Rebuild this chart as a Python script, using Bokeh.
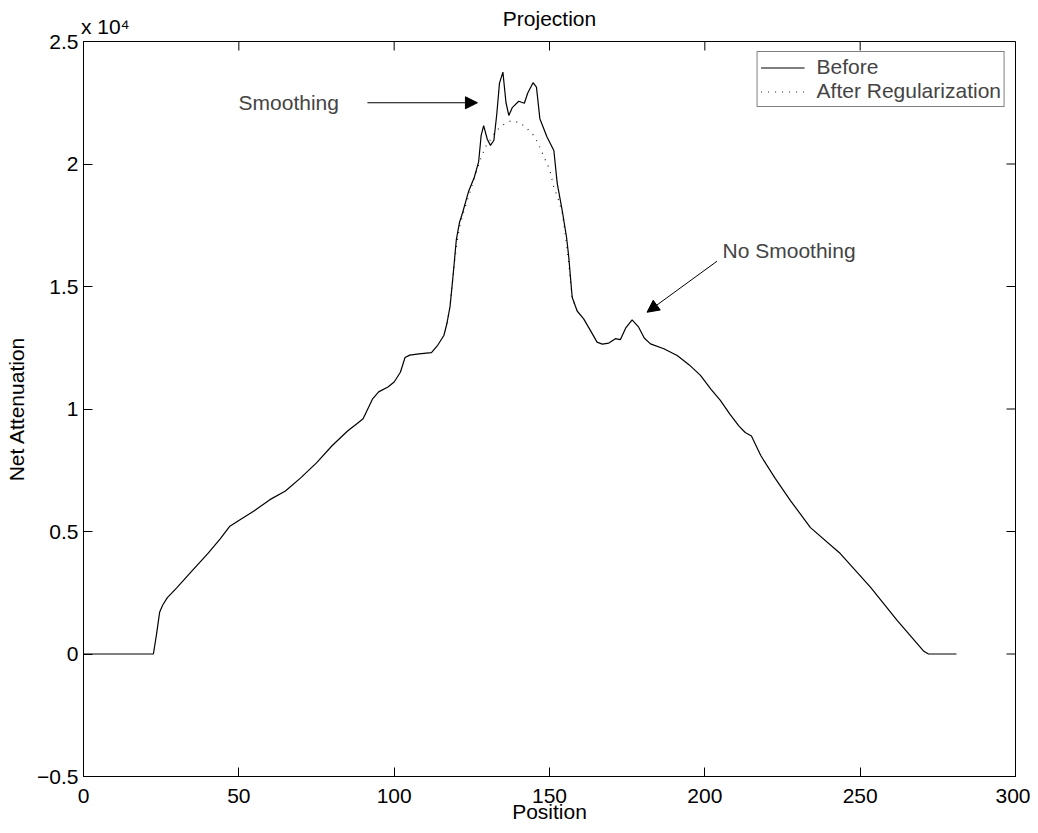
from math import pi
from bokeh.plotting import figure
from bokeh.models import (Range1d, FixedTicker, LinearAxis, Label, Arrow, NormalHead,
                          Legend, LegendItem, ColumnDataSource)
from bokeh.embed import file_html
from bokeh.resources import INLINE

# ---------------- data ----------------
# Net attenuation, raw units (axis is shown as x 10^4)
pos_before = [0, 22.5, 23.5, 24.5, 25.5, 27, 30, 35, 40, 44, 47, 50, 55, 60, 65, 70, 75, 80,
              85, 88, 90, 93, 95, 98, 100, 102, 103.5, 105, 108, 112, 114, 116, 117, 118, 119,
              120, 121, 122, 124, 125.8, 127.2, 128, 128.8, 130, 131, 132.1, 133, 133.9, 135,
              136, 136.9, 138, 140.1, 141.9, 143, 144.7, 145.8, 146.9, 149.2, 151.4, 152.5,
              154.1, 155.5, 156.2, 157.3, 158.9, 161, 163.2, 165.3, 167, 169.1, 171.2, 172.8,
              174.5, 176.6, 178.7, 180.5, 182.5, 186.8, 191.1, 195, 198.6, 202, 205, 208, 211,
              213, 215, 218, 222.7, 227.5, 234, 243.6, 253.3, 261.9, 270.5, 272, 281]
val_before = [0, 0, 800, 1700, 2000, 2300, 2700, 3400, 4100, 4700, 5200, 5450, 5850, 6300,
              6650, 7200, 7800, 8500, 9100, 9400, 9600, 10400, 10700, 10900, 11100, 11500,
              12100, 12200, 12250, 12300, 12600, 13000, 13500, 14200, 15500, 16900, 17600,
              18000, 18900, 19460, 20100, 21170, 21570, 21000, 20760, 20970, 22000, 23300,
              23750, 22500, 21980, 22300, 22560, 22480, 22900, 23320, 23140, 21850, 21100,
              20550, 19200, 18100, 17000, 16200, 14560, 14000, 13680, 13200, 12730, 12650,
              12690, 12870, 12830, 13300, 13640, 13340, 12900, 12660, 12460, 12180, 11800,
              11370, 10800, 10350, 9800, 9300, 9040, 8900, 8100, 7160, 6270, 5160, 4100,
              2730, 1370, 110, 0, 0]

pos_after = [117, 118, 119, 120, 121, 122, 124, 126, 127.8, 129.4, 131, 132.5, 134.7, 137.4,
             140.4, 142.8, 144.9, 146.5, 148.7, 150, 151.4, 153, 154.1, 155.2, 156.2, 157.3,
             158.9]
val_after = [13500, 14200, 15500, 16600, 17400, 17900, 18700, 19500, 20200, 20700, 21000,
             21300, 21570, 21750, 21700, 21440, 21170, 20800, 20150, 19800, 19050, 18500,
             18000, 17000, 15940, 14560, 14000]

x_ticks = [0, 50, 100, 150, 200, 250, 300]
y_ticks = [-5000, 0, 5000, 10000, 15000, 20000, 25000]
y_tick_labels = ["\u22120.5", "0", "0.5", "1", "1.5", "2", "2.5"]
exponent_text = "x 10\u2074"
exponent_anchor = 7          # x position (data) where the exponent note is centred

FONT = "Liberation Sans"
FS = "21px"

p = figure(width=1030, height=829, output_backend="svg", toolbar_location=None,
           x_range=Range1d(0, 300), y_range=Range1d(-5000, 25000),
           min_border_left=83, min_border_right=15, min_border_top=41, min_border_bottom=53,
           background_fill_color="white", border_fill_color="white")
p.xgrid.visible = False
p.ygrid.visible = False
p.outline_line_color = "black"
p.outline_line_width = 1

xb = p.xaxis[0]
yl = p.yaxis[0]
xb.ticker = FixedTicker(ticks=x_ticks)
yl.ticker = FixedTicker(ticks=y_ticks)
yl.major_label_overrides = {t: s for t, s in zip(y_ticks, y_tick_labels)}
for ax in (xb, yl):
    ax.axis_line_color = "black"
    ax.axis_line_width = 1
    ax.major_tick_in = 9
    ax.major_tick_out = 0
    ax.minor_tick_line_color = None
    ax.major_tick_line_color = "black"
    ax.major_label_text_font = FONT
    ax.major_label_text_font_size = FS
    ax.major_label_text_color = "black"
    ax.axis_label_text_font = FONT
    ax.axis_label_text_font_size = FS
    ax.axis_label_text_font_style = "normal"
    ax.axis_label_text_color = "black"
xb.major_label_standoff = 12
yl.major_label_standoff = 5
xb.axis_label = "Position"
yl.axis_label = "Net Attenuation"
xb.axis_label_standoff = -6
yl.axis_label_standoff = 6

# top axis: carries the exponent note and the title, no tick lines
xt = LinearAxis(ticker=FixedTicker(ticks=[exponent_anchor]),
                major_label_overrides={exponent_anchor: exponent_text})
xt.axis_line_color = None
xt.major_tick_line_color = None
xt.minor_tick_line_color = None
xt.major_tick_in = 0
xt.major_tick_out = 0
xt.major_label_standoff = 4
xt.major_label_text_font = FONT
xt.major_label_text_font_size = FS
xt.major_label_text_color = "black"
xt.axis_label = "Projection"
xt.axis_label_text_font = FONT
xt.axis_label_text_font_size = FS
xt.axis_label_text_font_style = "normal"
xt.axis_label_text_color = "black"
xt.axis_label_standoff = -18
p.add_layout(xt, "above")

# inward ticks on the top and right edges of the box
p.ray(x=x_ticks, y=p.y_range.end, length=9, length_units="screen", angle=-pi / 2,
      line_color="black", line_width=1)
p.ray(x=p.x_range.end, y=y_ticks, length=9, length_units="screen", angle=pi,
      line_color="black", line_width=1)

src_b = ColumnDataSource(dict(x=pos_before, y=val_before))
src_a = ColumnDataSource(dict(x=pos_after, y=val_after))
r_after = p.line("x", "y", source=src_a, line_color="#222222", line_width=1.2, line_dash="1 6")
r_before = p.line("x", "y", source=src_b, line_color="black", line_width=1.2)

legend = Legend(items=[LegendItem(label="Before", renderers=[r_before]),
                       LegendItem(label="After Regularization", renderers=[r_after])],
                location="top_right", margin=10, padding=3, spacing=0,
                glyph_width=44, glyph_height=21, label_height=21, label_standoff=12,
                label_text_font=FONT, label_text_font_size=FS,
                border_line_color="black", border_line_width=1,
                background_fill_color="white", background_fill_alpha=1)
p.add_layout(legend)

# annotations
p.add_layout(Arrow(end=NormalHead(size=12, fill_color="black", line_color="black"),
                   x_start=91.4, y_start=22500, x_end=126.8, y_end=22500,
                   line_color="black", line_width=1))
p.add_layout(Label(x=49.9, y=22500, text="Smoothing", text_align="left",
                   text_baseline="middle", text_font=FONT, text_font_size=FS))
p.add_layout(Arrow(end=NormalHead(size=12, fill_color="black", line_color="black"),
                   x_start=203.9, y_start=16030, x_end=181.4, y_end=13950,
                   line_color="black", line_width=1))
p.add_layout(Label(x=205.7, y=16470, text="No Smoothing", text_align="left",
                   text_baseline="middle", text_font=FONT, text_font_size=FS))

open("out.html", "w").write(file_html(p, INLINE))
